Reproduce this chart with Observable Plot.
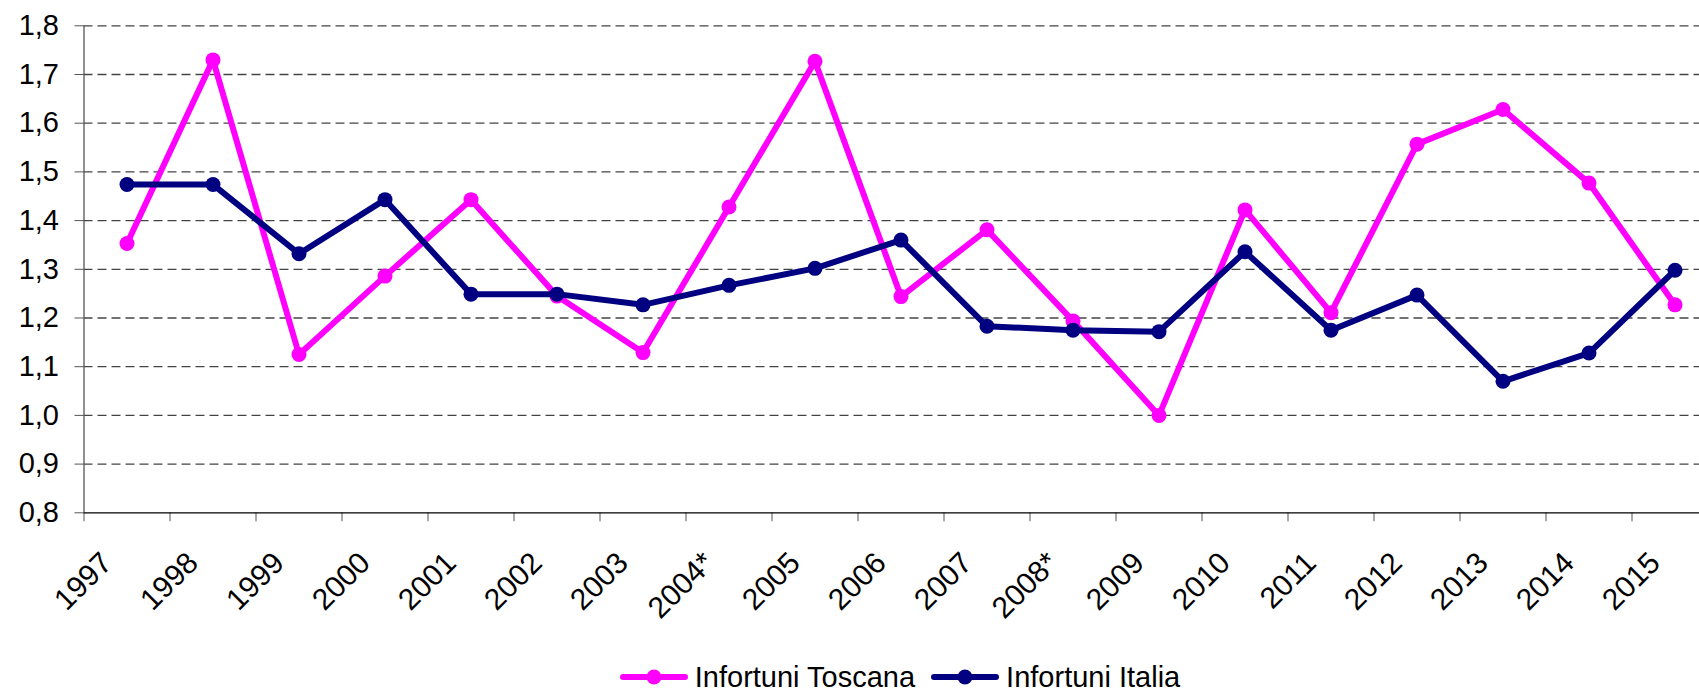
<!DOCTYPE html>
<html>
<head>
<meta charset="utf-8">
<script src="https://cdn.jsdelivr.net/npm/d3@7"></script>
<script src="https://cdn.jsdelivr.net/npm/@observablehq/plot@0.6"></script>
<style>
  html, body { margin: 0; padding: 0; background: white; overflow: hidden; width: 1699px; height: 690px; }
  #chart svg { display: block; }
  #legend { height: 45px; box-sizing: border-box; padding-top: 19px; padding-left: 101px;
    display: flex; justify-content: center; align-items: center;
    font-family: "Liberation Sans", Arial, sans-serif; font-size: 29px; color: black; }
  .item { display: inline-flex; align-items: center; margin: 0 8px; line-height: 1; }
  .item svg { margin-right: 7px; }
</style>
</head>
<body>
<div id="chart"></div>
<div id="legend"></div>
<script>
const years = ["1997","1998","1999","2000","2001","2002","2003","2004*","2005","2006","2007","2008*","2009","2010","2011","2012","2013","2014","2015"];
const toscana = [1.353, 1.730, 1.125, 1.286, 1.443, 1.245, 1.129, 1.428, 1.727, 1.244, 1.381, 1.194, 1.000, 1.422, 1.211, 1.557, 1.628, 1.477, 1.227];
const italia  = [1.474, 1.474, 1.332, 1.443, 1.249, 1.249, 1.227, 1.267, 1.302, 1.360, 1.183, 1.175, 1.172, 1.336, 1.175, 1.247, 1.070, 1.128, 1.298];
const yTicks = [0.8, 0.9, 1.0, 1.1, 1.2, 1.3, 1.4, 1.5, 1.6, 1.7, 1.8];
const seriesNames = ["Infortuni Toscana", "Infortuni Italia"];
const seriesColors = ["#FF00FF", "#000080"];

const W = 1699, H = 645;
const mLeft = 83.5, mTop = 25.3, plotBottom = 512.3;
const band = 86;

const rowsT = years.map((y, i) => ({i: i + 0.5, v: toscana[i]}));
const rowsI = years.map((y, i) => ({i: i + 0.5, v: italia[i]}));
const fmt = v => v.toFixed(1).replace(".", ",");

const chart = Plot.plot({
  width: W, height: H,
  marginLeft: mLeft, marginRight: 0, marginTop: mTop, marginBottom: H - plotBottom,
  x: {type: "linear", domain: [0, years.length], range: [mLeft, mLeft + band * years.length]},
  y: {domain: [0.8, 1.8]},
  style: {fontFamily: "'Liberation Sans', Arial, sans-serif", fontSize: "29px", color: "black", background: "white", overflow: "visible"},
  marks: [
    Plot.ruleY(yTicks.filter(v => v > 0.8), {y: d => d, stroke: "#444", strokeWidth: 1.3, strokeDasharray: "9,5"}),
    Plot.axisY({ticks: yTicks, tickSize: 9, tickPadding: 16, tickFormat: fmt, stroke: "#555", fontSize: 29, label: null}),
    Plot.ruleX([0], {y1: 0.8, y2: 1.8, stroke: "#555", strokeWidth: 1.3}),
    Plot.axisX({ticks: d3.range(0, years.length + 1), tickSize: 9, tickFormat: () => "", stroke: "#555", label: null}),
    Plot.axisX({ticks: years.map((_, i) => i + 0.5), tickSize: 0, tickPadding: 45, tickRotate: -45, dx: -20,
      tickFormat: v => years[Math.round(v - 0.5)], fontSize: 30, label: null}),
    Plot.ruleY([0.8], {stroke: "black", strokeWidth: 1.3}),
    Plot.line(rowsT, {x: "i", y: "v", stroke: seriesColors[0], strokeWidth: 6}),
    Plot.dot(rowsT, {x: "i", y: "v", r: 7.5, fill: seriesColors[0]}),
    Plot.line(rowsI, {x: "i", y: "v", stroke: seriesColors[1], strokeWidth: 6}),
    Plot.dot(rowsI, {x: "i", y: "v", r: 7.5, fill: seriesColors[1]})
  ]
});
document.getElementById("chart").append(chart);

const legend = document.getElementById("legend");
seriesNames.forEach((name, k) => {
  const item = document.createElement("span");
  item.className = "item";
  item.innerHTML = `<svg width="68" height="20"><line x1="3" y1="10" x2="65" y2="10" stroke="${seriesColors[k]}" stroke-width="6" stroke-linecap="round"/><circle cx="34" cy="10" r="7.5" fill="${seriesColors[k]}"/></svg><span>${name}</span>`;
  legend.append(item);
});
</script>
</body>
</html>
